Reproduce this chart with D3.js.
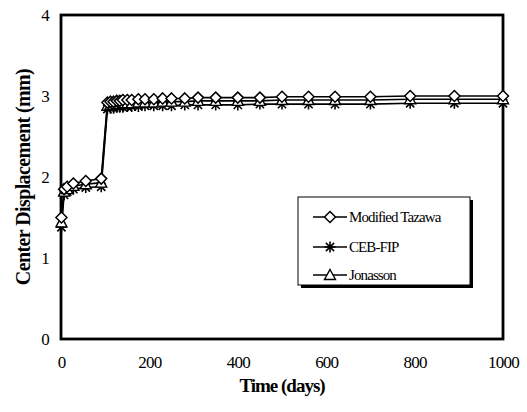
<!DOCTYPE html>
<html><head><meta charset="utf-8">
<script src="https://cdn.jsdelivr.net/npm/d3@7"></script>
<style>body{margin:0;background:#fff}svg{display:block}</style>
</head><body>
<svg id="c" width="527" height="412"></svg>
<script>
const days = [1, 7, 14, 28, 56, 91, 105, 112, 119, 126, 133, 140, 150, 160, 175, 190, 210, 230, 250, 280, 310, 350, 400, 450, 500, 560, 620, 700, 790, 890, 1000];
const tazawa = [1.50, 1.85, 1.88, 1.92, 1.95, 1.98, 2.92, 2.93, 2.93, 2.94, 2.94, 2.95, 2.95, 2.95, 2.96, 2.96, 2.96, 2.97, 2.97, 2.97, 2.98, 2.98, 2.98, 2.98, 2.99, 2.99, 2.99, 2.99, 3.00, 3.00, 3.00];
const cebfip = [1.38, 1.78, 1.82, 1.85, 1.87, 1.88, 2.84, 2.85, 2.85, 2.86, 2.86, 2.86, 2.87, 2.87, 2.87, 2.88, 2.88, 2.88, 2.88, 2.89, 2.89, 2.89, 2.89, 2.90, 2.90, 2.90, 2.90, 2.90, 2.91, 2.91, 2.91];
const jonasson = [1.44, 1.82, 1.85, 1.89, 1.91, 1.93, 2.88, 2.89, 2.89, 2.90, 2.90, 2.91, 2.91, 2.91, 2.92, 2.92, 2.92, 2.93, 2.93, 2.93, 2.94, 2.94, 2.94, 2.94, 2.95, 2.95, 2.95, 2.95, 2.96, 2.96, 2.96];
const seriesNames = ["Modified Tazawa", "CEB-FIP", "Jonasson"];
const xTicks = [0, 200, 400, 600, 800, 1000];
const yTicks = [0, 1, 2, 3, 4];

const svg = d3.select("#c");
const L = 61, R = 503, T = 15, B = 339;
const x = d3.scaleLinear().domain([0, 1000]).range([L, R]);
const y = d3.scaleLinear().domain([0, 4]).range([B, T]);
const font = '"Liberation Serif", "DejaVu Serif", serif';

svg.append("rect").attr("x", L).attr("y", T).attr("width", R - L).attr("height", B - T)
  .attr("fill", "none").attr("stroke", "#000").attr("stroke-width", 2.8);

const xa = svg.append("g").attr("transform", `translate(0,${B})`)
  .call(d3.axisBottom(x).tickValues(xTicks).tickSize(0).tickPadding(14).tickFormat(d3.format("d")));
const ya = svg.append("g").attr("transform", `translate(${L},0)`)
  .call(d3.axisLeft(y).tickValues(yTicks).tickSize(0).tickPadding(12).tickFormat(d3.format("d")));
[xa, ya].forEach(a => {
  a.select(".domain").remove();
  a.selectAll("text").style("font-family", font).style("font-size", "17px").attr("fill", "#000").attr("letter-spacing", -0.8);
});
xa.selectAll("text").attr("dy", "0.9em");

svg.append("text").attr("x", (L + R) / 2).attr("y", 392).attr("text-anchor", "middle")
  .style("font-family", font).style("font-weight", "bold").style("font-size", "19px").attr("letter-spacing", -1)
  .text("Time (days)");
svg.append("text").attr("transform", `translate(30,${(T + B) / 2}) rotate(-90)`).attr("text-anchor", "middle")
  .style("font-family", font).style("font-weight", "bold").style("font-size", "20px").attr("letter-spacing", -0.6)
  .text("Center Displacement (mm)");

const data = [tazawa, cebfip, jonasson];
const line = d3.line().x((d, i) => x(days[i])).y(d => y(d));

function marker(g, kind, cx, cy) {
  if (kind === 0) {
    g.append("path").attr("d", `M${cx},${cy - 5.5}L${cx + 5.5},${cy}L${cx},${cy + 5.5}L${cx - 5.5},${cy}Z`)
      .attr("fill", "#fff").attr("stroke", "#000").attr("stroke-width", 1.5);
  } else if (kind === 1) {
    const r = 5.5;
    g.append("path").attr("d",
      `M${cx - r},${cy}L${cx + r},${cy}M${cx},${cy - r}L${cx},${cy + r}M${cx - r * 0.75},${cy - r * 0.75}L${cx + r * 0.75},${cy + r * 0.75}M${cx - r * 0.75},${cy + r * 0.75}L${cx + r * 0.75},${cy - r * 0.75}`)
      .attr("fill", "none").attr("stroke", "#000").attr("stroke-width", 1.6);
  } else {
    g.append("path").attr("d", `M${cx},${cy - 5.5}L${cx + 5.5},${cy + 4.5}L${cx - 5.5},${cy + 4.5}Z`)
      .attr("fill", "#fff").attr("stroke", "#000").attr("stroke-width", 1.4);
  }
}

data.forEach((vals) => {
  svg.append("path").datum(vals).attr("d", line).attr("fill", "none")
    .attr("stroke", "#000").attr("stroke-width", 1.6);
});
[1, 2, 0].forEach(k => {
  const g = svg.append("g");
  data[k].forEach((v, i) => marker(g, k, x(days[i]), y(v)));
});

const lx = 298, ly = 197, lw = 172, lh = 88;
svg.append("rect").attr("x", lx + 3).attr("y", ly + 3).attr("width", lw).attr("height", lh).attr("fill", "#000");
svg.append("rect").attr("x", lx).attr("y", ly).attr("width", lw).attr("height", lh)
  .attr("fill", "#fff").attr("stroke", "#000").attr("stroke-width", 1);
const ey = [217, 247, 275];
seriesNames.forEach((n, k) => {
  const g = svg.append("g");
  g.append("line").attr("x1", 313).attr("x2", 347).attr("y1", ey[k]).attr("y2", ey[k])
    .attr("stroke", "#000").attr("stroke-width", 1.5);
  marker(g, k, 330, ey[k]);
  g.append("text").attr("x", 349).attr("y", ey[k]).attr("dy", "0.35em")
    .style("font-family", font).style("font-size", "15px").attr("letter-spacing", -0.9).text(n);
});
</script>
</body></html>
